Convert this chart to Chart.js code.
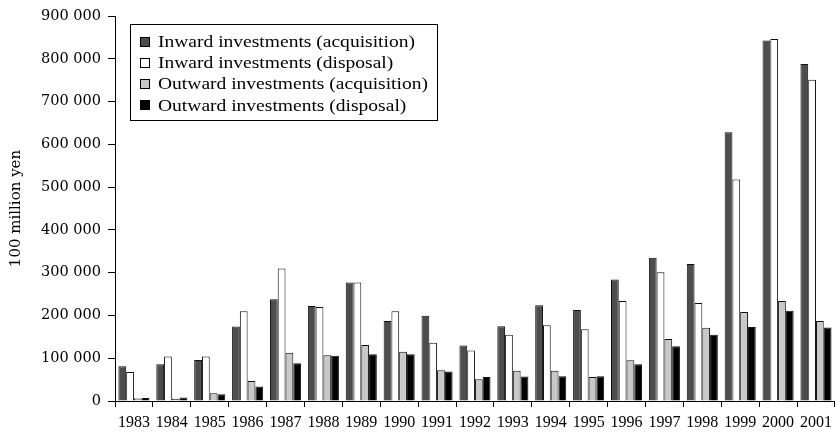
<!DOCTYPE html>
<html>
<head>
<meta charset="utf-8">
<script src="https://cdn.jsdelivr.net/npm/chart.js@4/dist/chart.umd.min.js"></script>
<style>
  html, body { margin: 0; padding: 0; background: #ffffff; }
  #wrap { width: 838px; height: 434px; }
</style>
</head>
<body>
<div id="wrap"><canvas id="c" width="838" height="434"></canvas></div>
<script>
const years = ['1983','1984','1985','1986','1987','1988','1989','1990','1991','1992','1993','1994','1995','1996','1997','1998','1999','2000','2001'];
const inwardAcquisition = [81000, 86000, 96000, 174000, 238000, 222000, 277000, 187000, 199000, 130000, 175000, 224000, 213000, 284000, 335000, 320000, 628000, 843000, 788000];
const inwardDisposal    = [68000, 104000, 104000, 210000, 310000, 220000, 277000, 210000, 136000, 118000, 155000, 177000, 168000, 234000, 301000, 229000, 518000, 846000, 751000];
const outwardAcquisition= [6000, 5000, 18000, 47000, 113000, 107000, 131000, 115000, 72000, 51000, 71000, 71000, 56000, 95000, 145000, 171000, 208000, 234000, 187000];
const outwardDisposal   = [7000, 8000, 16000, 34000, 88000, 106000, 109000, 109000, 69000, 56000, 57000, 58000, 58000, 86000, 128000, 155000, 173000, 211000, 172000];
const seriesLabels = ['Inward investments (acquisition)', 'Inward investments (disposal)', 'Outward investments (acquisition)', 'Outward investments (disposal)'];
const yTicks = [0, 100000, 200000, 300000, 400000, 500000, 600000, 700000, 800000, 900000];
const yTitle = '100 million yen';

const fills = ['#4d4d4d', '#ffffff', '#c8c8c8', '#000000'];
const times = 'Liberation Serif';
const wide = 'DejaVu Serif';

function fmt(v) { return String(v).replace(/\B(?=(\d{3})+(?!\d))/g, ' '); }

const boxLegend = {
  id: 'boxLegend',
  afterDraw(chart) {
    const ctx = chart.ctx;
    const x0 = 130.5, y0 = 24.5, w = 307, h = 96;
    ctx.save();
    ctx.fillStyle = '#ffffff';
    ctx.fillRect(x0, y0, w, h);
    ctx.strokeStyle = '#000000';
    ctx.lineWidth = 1;
    ctx.strokeRect(x0, y0, w, h);
    chart.data.datasets.forEach((ds, i) => {
      const cy = 41.8 + i * 21.2;
      const sy = Math.round(cy - 5) + 0.5;
      ctx.fillStyle = ds.backgroundColor;
      ctx.fillRect(140.5, sy, 9, 9);
      ctx.strokeStyle = '#000000';
      ctx.strokeRect(140.5, sy, 9, 9);
      ctx.save();
      ctx.translate(158, cy + 1);
      ctx.scale(1.22, 1);
      ctx.font = '16px "' + times + '"';
      ctx.textBaseline = 'middle';
      ctx.fillStyle = '#000000';
      ctx.fillText(ds.label, 0, 0);
      ctx.restore();
    });
    ctx.restore();
  }
};

new Chart(document.getElementById('c'), {
  type: 'bar',
  data: {
    labels: years,
    datasets: [inwardAcquisition, inwardDisposal, outwardAcquisition, outwardDisposal].map((d, i) => ({
      label: seriesLabels[i],
      data: d,
      backgroundColor: fills[i],
      borderColor: '#111111',
      borderWidth: 1,
      categoryPercentage: 0.82,
      barPercentage: 1.0
    }))
  },
  options: {
    responsive: false,
    animation: false,
    devicePixelRatio: 1,
    layout: { padding: { top: 16, right: 1, left: 0, bottom: 0 } },
    plugins: { legend: { display: false }, tooltip: { enabled: false } },
    scales: {
      x: {
        grid: { offset: true, drawOnChartArea: false, drawTicks: true, tickLength: 6, color: '#000000' },
        border: { display: true, color: '#000000', width: 1 },
        ticks: { color: '#000000', font: { family: times, size: 16 }, maxRotation: 0, autoSkip: false, padding: 6 },
        afterFit(scale) { scale.height = 33; }
      },
      y: {
        min: 0, max: 900000,
        afterBuildTicks(scale) { scale.ticks = yTicks.map(v => ({ value: v })); },
        grid: { drawOnChartArea: false, drawTicks: true, tickLength: 7, color: '#000000' },
        border: { display: true, color: '#000000', width: 1 },
        ticks: { color: '#000000', font: { family: wide, size: 14.5 }, padding: 7, callback: v => fmt(v) },
        title: { display: true, text: yTitle, color: '#000000', font: { family: wide, size: 15 }, padding: { top: 7, bottom: 0 } },
        afterFit(scale) { scale.width = 115; }
      }
    }
  },
  plugins: [boxLegend]
});
</script>
</body>
</html>
